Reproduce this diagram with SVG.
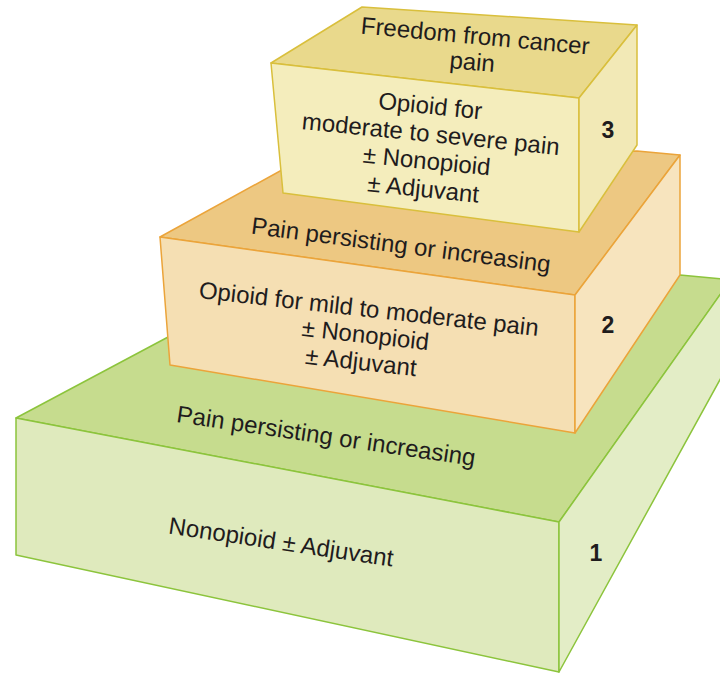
<svg xmlns="http://www.w3.org/2000/svg" width="720" height="674" viewBox="0 0 720 674">
<style>
  .t { font-family: "Liberation Sans", Arial, sans-serif; font-size: 24px; fill: #1f1c1d; text-anchor: middle; }
  .n { font-family: "Liberation Sans", Arial, sans-serif; font-size: 23px; font-weight: bold; fill: #1f1c1d; text-anchor: middle; }
  .g { stroke: #8cc43c; stroke-width: 1.5; stroke-linejoin: round; }
  .o { stroke: #eba43a; stroke-width: 1.5; stroke-linejoin: round; }
  .y { stroke: #d9bf3c; stroke-width: 1.5; stroke-linejoin: round; }
</style>
<rect width="720" height="674" fill="#ffffff"/>

<g id="step1">
  <polygon class="g" fill="#c6dc8e" points="16,418 200,320 680,275 722,279 722,292 559,522"/>
  <polygon class="g" fill="#dfeabd" points="16,418 559,522 559,672 16,555"/>
  <polygon class="g" fill="#e3edc6" points="559,522 722,292 722,376 559,672"/>
  <text class="t" transform="rotate(8.4 325 444)" x="325" y="444">Pain persisting or increasing</text>
  <text class="t" transform="rotate(8.4 280 550)" x="280" y="550">Nonopioid ± Adjuvant</text>
  <text class="n" x="596" y="561">1</text>
</g>

<g id="step2">
  <polygon class="o" fill="#edc882" points="160,237 300,160 637,151 680,155 575,295"/>
  <polygon class="o" fill="#f5dfb3" points="160,237 575,295 575,433 170,365"/>
  <polygon class="o" fill="#f7e4be" points="575,295 680,155 680,275 575,433"/>
  <text class="t" transform="rotate(7.4 400 253)" x="400" y="253">Pain persisting or increasing</text>
  <text class="t" transform="rotate(6.4 368 317)" x="368" y="317">Opioid for mild to moderate pain</text>
  <text class="t" transform="rotate(6.4 364.5 343)" x="364.5" y="343">± Nonopioid</text>
  <text class="t" transform="rotate(6.4 360 370)" x="360" y="370">± Adjuvant</text>
  <text class="n" x="608" y="333">2</text>
</g>

<g id="step3">
  <polygon class="y" fill="#e9d98c" points="271,63 362,7 637,25 579,98"/>
  <polygon class="y" fill="#f4edbc" points="271,63 579,98 579,232 283,193"/>
  <polygon class="y" fill="#f2e9b6" points="579,98 637,25 637,145 579,232"/>
  <text class="t" transform="rotate(5.3 474.5 44)" x="474.5" y="44">Freedom from cancer</text>
  <text class="t" transform="rotate(5.3 471.5 70)" x="471.5" y="70">pain</text>
  <text class="t" transform="rotate(5.8 429.5 114)" x="429.5" y="114">Opioid for</text>
  <text class="t" transform="rotate(5.8 430 142)" x="430" y="142">moderate to severe pain</text>
  <text class="t" transform="rotate(5.8 426 169)" x="426" y="169">± Nonopioid</text>
  <text class="t" transform="rotate(5.8 422.5 197)" x="422.5" y="197">± Adjuvant</text>
  <text class="n" x="608" y="138">3</text>
</g>
</svg>
